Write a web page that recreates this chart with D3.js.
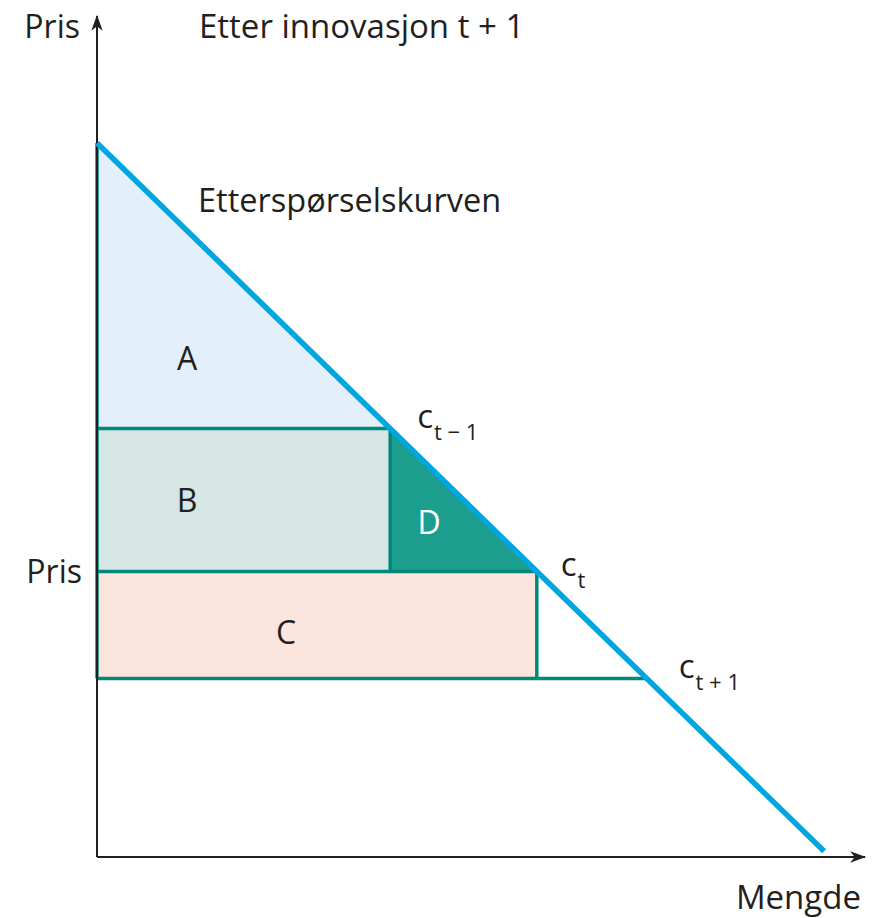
<!DOCTYPE html>
<html>
<head>
<meta charset="utf-8">
<script src="https://cdn.jsdelivr.net/npm/d3@7"></script>
<style>
  body { margin: 0; background: #fff; }
  text { font-family: "Open Sans", sans-serif; fill: #231f20; }
</style>
</head>
<body>
<div id="chart"></div>
<script>
// price levels (cost after each innovation step)
const priceLevels = [6, 4, 2.5];             // c(t-1), c(t), c(t+1)
const priceLabels = ["t − 1", "t", "t + 1"];
// demand curve p = 10 - q
const demandQ = [0, 9.92];
const demandP = [10, 0.08];
// areas
const areaNames = ["A", "B", "C", "D"];
const areaA = [[0, 10], [0, 6], [4, 6]];
const areaB = [[0, 6], [4, 6], [4, 4], [0, 4]];
const areaC = [[0, 4], [6, 4], [6, 2.5], [0, 2.5]];
const areaD = [[4, 6], [4, 4], [6, 4]];
const areaColors = ["#e3f0fb", "#d6e6e5", "#fce5dc", "#1c9e8f"];
const labelPos = [[1.23, 6.82], [1.23, 4.83], [2.58, 2.98], [4.53, 4.52]];

const width = 884, height = 918;
const x = d3.scaleLinear().domain([0, 10]).range([97, 830]);
const y = d3.scaleLinear().domain([0, 10]).range([857, 143]);

const svg = d3.select('#chart')
  .append('svg')
    .attr('width', width)
    .attr('height', height);

const line = d3.line().x(d => x(d[0])).y(d => y(d[1]));

// filled areas
[areaA, areaB, areaC, areaD].forEach((pts, i) => {
  svg.append('path')
    .attr('d', line(pts) + 'Z')
    .attr('fill', areaColors[i]);
});

// teal outlines
const teal = "#00897b";
const segs = [
  [[0, 6], [4, 6]],
  [[0, 4], [6, 4]],
  [[0, 2.5], [7.5, 2.5]],
  [[4, 6], [4, 4]],
  [[6, 4], [6, 2.5]],
  [[0, 10], [0, 2.5]]
];
segs.forEach(s => {
  svg.append('path')
    .attr('d', line(s))
    .attr('stroke', teal)
    .attr('stroke-width', 3.5)
    .attr('fill', 'none');
});

// axes with arrows
svg.append('defs').append('marker')
    .attr('id', 'arrow')
    .attr('viewBox', '0 0 14 10')
    .attr('refX', 13).attr('refY', 5)
    .attr('markerWidth', 16).attr('markerHeight', 12)
    .attr('markerUnits', 'userSpaceOnUse')
    .attr('orient', 'auto')
  .append('path')
    .attr('d', 'M0,0 L14,5 L0,10 L4,5 Z')
    .attr('fill', '#231f20');

svg.append('line')
    .attr('x1', x(0)).attr('y1', y(0))
    .attr('x2', x(0)).attr('y2', 16)
    .attr('stroke', '#231f20').attr('stroke-width', 2)
    .attr('marker-end', 'url(#arrow)');

svg.append('line')
    .attr('x1', x(0)).attr('y1', y(0))
    .attr('x2', 865).attr('y2', y(0))
    .attr('stroke', '#231f20').attr('stroke-width', 2)
    .attr('marker-end', 'url(#arrow)');

// demand curve
svg.append('path')
    .attr('d', line(demandQ.map((q, i) => [q, demandP[i]])))
    .attr('stroke', '#00a6e0')
    .attr('stroke-width', 5.5)
    .attr('fill', 'none');

// area letters
areaNames.forEach((n, i) => {
  svg.append('text')
    .attr('x', x(labelPos[i][0]))
    .attr('y', y(labelPos[i][1]))
    .attr('text-anchor', 'middle')
    .attr('font-size', 32)
    .style('fill', n === 'D' ? '#fff' : '#231f20')
    .text(n);
});

// c labels at intersections
const cOffset = [[27, -1], [24, 5], [32, -1]];
priceLevels.forEach((p, i) => {
  const q = 10 - p;
  const t = svg.append('text')
    .attr('x', x(q) + cOffset[i][0])
    .attr('y', y(p) + cOffset[i][1])
    .attr('font-size', 33);
  t.append('tspan').text('c');
  t.append('tspan')
    .attr('dy', 12)
    .attr('dx', 1)
    .attr('font-size', 22)
    .text(priceLabels[i]);
});

// axis labels and titles
svg.append('text').attr('x', 80).attr('y', 38)
    .attr('text-anchor', 'end').attr('font-size', 32).text('Pris');
svg.append('text').attr('x', 82).attr('y', y(4) + 12)
    .attr('text-anchor', 'end').attr('font-size', 32).text('Pris');
svg.append('text').attr('x', 861).attr('y', 909)
    .attr('text-anchor', 'end').attr('font-size', 33).text('Mengde');
svg.append('text').attr('x', 199).attr('y', 38)
    .attr('font-size', 33).text('Etter innovasjon  t + 1');
svg.append('text').attr('x', 198).attr('y', 212)
    .attr('font-size', 32.5).text('Etterspørselskurven');
</script>
</body>
</html>
